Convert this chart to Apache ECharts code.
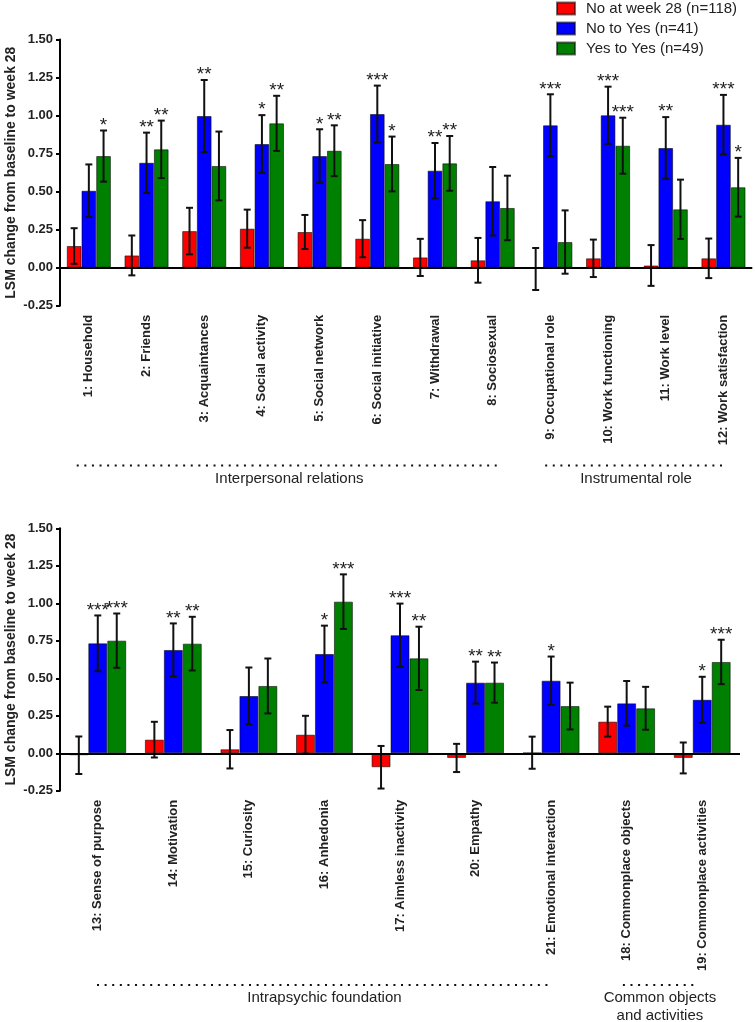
<!DOCTYPE html>
<html>
<head>
<meta charset="utf-8">
<script src="https://cdn.jsdelivr.net/npm/echarts@6/dist/echarts.min.js"></script>
<style>
html,body{margin:0;padding:0;background:#fff;}
#chart{width:755px;height:1022px;}
</style>
</head>
<body>
<div id="chart"></div>
<script>
// ---------- data ----------
const seriesNames = ['No at week 28 (n=118)', 'No to Yes (n=41)', 'Yes to Yes (n=49)'];
const seriesColors = ['#ff0000', '#0000ff', '#008000'];

const catsTop = ['1: Household','2: Friends','3: Acquaintances','4: Social activity','5: Social network','6: Social initiative','7: Withdrawal','8: Sociosexual','9: Occupational role','10: Work functioning','11: Work level','12: Work satisfaction'];
const redTop   = [0.143, 0.081, 0.241, 0.257, 0.235, 0.191, 0.068, 0.049, -0.008, 0.062, 0.015, 0.062];
const redTopSE = [0.117, 0.131, 0.153, 0.125, 0.112, 0.122, 0.122, 0.147, 0.138, 0.123, 0.134, 0.130];
const blueTop   = [0.506, 0.690, 0.997, 0.813, 0.734, 1.010, 0.638, 0.437, 0.936, 1.002, 0.787, 0.940];
const blueTopSE = [0.173, 0.198, 0.237, 0.190, 0.176, 0.187, 0.182, 0.225, 0.204, 0.188, 0.203, 0.196];
const greenTop   = [0.734, 0.778, 0.669, 0.949, 0.769, 0.682, 0.686, 0.393, 0.169, 0.802, 0.384, 0.529];
const greenTopSE = [0.168, 0.189, 0.226, 0.181, 0.167, 0.180, 0.180, 0.212, 0.208, 0.184, 0.195, 0.193];
const redTopStars   = ['','','','','','','','','','','',''];
const blueTopStars  = ['','**','**','*','*','***','**','','***','***','**','***'];
const greenTopStars = ['*','**','','**','**','*','**','','','***','','*'];

const catsBot = ['13: Sense of purpose','14: Motivation','15: Curiosity','16: Anhedonia','17: Aimless inactivity','20: Empathy','21: Emotional interaction','18: Commonplace objects','19: Commonplace activities'];
const redBot   = [-0.013, 0.091, 0.027, 0.124, -0.093, -0.031, 0.004, 0.211, -0.031];
const redBotSE = [0.125, 0.119, 0.128, 0.126, 0.142, 0.094, 0.107, 0.100, 0.103];
const blueBot   = [0.733, 0.689, 0.382, 0.662, 0.787, 0.471, 0.484, 0.333, 0.357];
const blueBotSE = [0.186, 0.177, 0.190, 0.189, 0.211, 0.140, 0.161, 0.149, 0.153];
const greenBot   = [0.751, 0.731, 0.449, 1.011, 0.633, 0.471, 0.315, 0.300, 0.609];
const greenBotSE = [0.181, 0.179, 0.183, 0.182, 0.211, 0.134, 0.156, 0.143, 0.148];
const redBotStars   = ['','','','','','','','',''];
const blueBotStars  = ['***','**','','*','***','**','*','','*'];
const greenBotStars = ['***','**','','***','**','**','','','***'];

const yTicks = [-0.25, 0, 0.25, 0.5, 0.75, 1.0, 1.25, 1.5];
const yTitle = 'LSM change from baseline to week 28';

const groupsTop = [
  {name: 'Interpersonal relations', from: -0.21, to: 7.16},
  {name: 'Instrumental role', from: 7.91, to: 11.06}
];
const groupsBot = [
  {name: 'Intrapsychic foundation', from: -0.01, to: 6.01},
  {name: 'Common objects\nand activities', from: 6.95, to: 7.93}
];

// ---------- chart ----------
const FONT = '"Liberation Sans", Arial, Helvetica, sans-serif';
const chart = echarts.init(document.getElementById('chart'), null, {renderer: 'canvas'});

function buildErr(vals, ses, stars) {
  const data = [], starList = [];
  for (let s = 0; s < 3; s++) {
    for (let i = 0; i < vals[s].length; i++) {
      data.push([i, s, vals[s][i], ses[s][i]]);
      starList.push(stars[s][i]);
    }
  }
  return {data, starList};
}

const errTop = buildErr([redTop, blueTop, greenTop], [redTopSE, blueTopSE, greenTopSE], [redTopStars, blueTopStars, greenTopStars]);
const errBot = buildErr([redBot, blueBot, greenBot], [redBotSE, blueBotSE, greenBotSE], [redBotStars, blueBotStars, greenBotStars]);

function makeRender(frac, starList) {
  return function (params, api) {
    const ci = api.value(0), s = api.value(1), v = api.value(2), se = api.value(3);
    const bw = api.size([1, 0])[0];
    const barW = bw * frac;
    const c = api.coord([ci, v]);
    const x = c[0] + (s - 1) * barW;
    const yt = api.coord([ci, v + se])[1];
    const yb = api.coord([ci, v - se])[1];
    const cap = 3.5;
    const ls = {stroke: '#111', lineWidth: 2};
    const children = [
      {type: 'line', shape: {x1: x, y1: yt, x2: x, y2: yb}, style: ls},
      {type: 'line', shape: {x1: x - cap, y1: yt, x2: x + cap, y2: yt}, style: ls},
      {type: 'line', shape: {x1: x - cap, y1: yb, x2: x + cap, y2: yb}, style: ls}
    ];
    const st = starList[params.dataIndex];
    if (st) {
      children.push({type: 'text', style: {text: st, x: x, y: yt - 5, align: 'center', verticalAlign: 'middle',
        font: '19px ' + FONT, fill: '#222'}});
    }
    return {type: 'group', children};
  };
}

function barSeries(name, color, data, axisIdx, frac, withZero) {
  const s = {
    name, type: 'bar', xAxisIndex: axisIdx, yAxisIndex: axisIdx, data,
    barWidth: (frac * 100) + '%', barGap: '0%',
    itemStyle: {color, borderColor: 'rgba(0,0,0,0.55)', borderWidth: 1},
    silent: true
  };
  if (withZero) {
    s.markLine = {silent: true, symbol: 'none', z: 10, label: {show: false},
      lineStyle: {color: '#000', width: 2, type: 'solid'}, data: [{yAxis: 0}]};
  }
  return s;
}

const fracTop = 0.255, fracBot = 0.251;

function yAxisDef(idx) {
  return {
    type: 'value', gridIndex: idx, min: -0.25, max: 1.5, interval: 0.25,
    axisLine: {show: true, lineStyle: {color: '#000', width: 2}},
    axisTick: {show: true, length: 4, lineStyle: {color: '#000', width: 2}},
    splitLine: {show: false},
    axisLabel: {formatter: v => v.toFixed(2), fontFamily: FONT, fontWeight: 'bold', fontSize: 13, color: '#222', margin: 7},
    name: yTitle, nameLocation: 'middle', nameGap: 42, nameMoveOverlap: false,
    nameTextStyle: {fontFamily: FONT, fontWeight: 'bold', fontSize: 14, color: '#222'}
  };
}
function xAxisDef(idx, cats) {
  return {
    type: 'category', gridIndex: idx, data: cats, position: 'bottom',
    axisLine: {show: false, onZero: false}, axisTick: {show: false},
    axisLabel: {rotate: 90, interval: 0, fontFamily: FONT, fontWeight: 'bold', fontSize: 13, color: '#222', margin: 9}
  };
}

const option = {
  animation: false,
  backgroundColor: '#fff',
  grid: [
    {left: 60, top: 39.5, width: 692.3, height: 266.3, outerBoundsMode: 'none', containLabel: false},
    {left: 60, top: 528.3, width: 680, height: 262.5, outerBoundsMode: 'none', containLabel: false}
  ],
  legend: {
    left: 556, top: 1, padding: 0, orient: 'vertical', itemWidth: 18, itemHeight: 12, itemGap: 5,
    icon: 'rect', selectedMode: false,
    data: seriesNames,
    textStyle: {fontFamily: FONT, fontSize: 15, color: '#222', padding: [0, 0, 0, 6]}
  },
  xAxis: [xAxisDef(0, catsTop), xAxisDef(1, catsBot)],
  yAxis: [yAxisDef(0), yAxisDef(1)],
  series: [
    barSeries(seriesNames[0], seriesColors[0], redTop, 0, fracTop, true),
    barSeries(seriesNames[1], seriesColors[1], blueTop, 0, fracTop, false),
    barSeries(seriesNames[2], seriesColors[2], greenTop, 0, fracTop, false),
    barSeries(seriesNames[0], seriesColors[0], redBot, 1, fracBot, true),
    barSeries(seriesNames[1], seriesColors[1], blueBot, 1, fracBot, false),
    barSeries(seriesNames[2], seriesColors[2], greenBot, 1, fracBot, false),
    {type: 'custom', xAxisIndex: 0, yAxisIndex: 0, data: errTop.data, renderItem: makeRender(fracTop, errTop.starList), z: 5, silent: true},
    {type: 'custom', xAxisIndex: 1, yAxisIndex: 1, data: errBot.data, renderItem: makeRender(fracBot, errBot.starList), z: 5, silent: true}
  ]
};
chart.setOption(option);

// group annotations (dotted lines + captions) positioned from the axes
function groupGraphics(axisIdx, groups, lineY, textY) {
  const c0 = chart.convertToPixel({xAxisIndex: axisIdx}, 0);
  const c1 = chart.convertToPixel({xAxisIndex: axisIdx}, 1);
  const bw = c1 - c0;
  const els = [];
  groups.forEach(g => {
    const x1 = c0 + bw * g.from, x2 = c0 + bw * g.to;
    els.push({type: 'line', silent: true, shape: {x1, y1: lineY, x2, y2: lineY},
      style: {stroke: '#111', lineWidth: 2, lineDash: [2, 5.6]}});
    els.push({type: 'text', silent: true, x: (x1 + x2) / 2, y: textY,
      style: {text: g.name, align: 'center', verticalAlign: 'top', font: '15px ' + FONT, fill: '#222', lineHeight: 18}});
  });
  return els;
}
chart.setOption({graphic: [].concat(groupGraphics(0, groupsTop, 465.5, 470), groupGraphics(1, groupsBot, 985, 989))});
</script>
</body>
</html>
